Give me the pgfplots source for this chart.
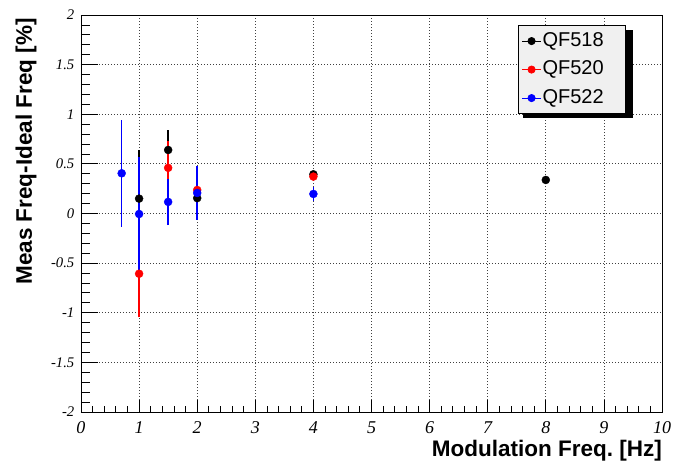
\documentclass[border=0pt]{standalone}
\usepackage{fontspec}
\setmainfont{Liberation Serif}
\newfontfamily\hv{Liberation Sans}
\usepackage{pgfplots}
\pgfplotsset{compat=1.18}
\definecolor{legfill}{HTML}{F0F0F0}
\frenchspacing

% measured points
\pgfplotstableread{
x y
1 0.150
1.5 0.640
2 0.155
4 0.395
8 0.338
}\qfA
\pgfplotstableread{
x y
1 -0.607
1.5 0.460
2 0.237
4 0.372
}\qfB
\pgfplotstableread{
x y
0.7 0.405
1 -0.005
1.5 0.117
2 0.207
4 0.197
}\qfC
% error bar ends (low, high) for each point
\pgfplotstableread{
x y
1 -0.34
1 0.64
nan nan
1.5 0.44
1.5 0.84
nan nan
2 0.055
2 0.255
nan nan
4 0.365
4 0.425
nan nan
8 0.308
8 0.368
}\errA
\pgfplotstableread{
x y
1 -1.047
1 -0.167
nan nan
1.5 0.19
1.5 0.73
nan nan
2 0.137
2 0.337
nan nan
4 0.342
4 0.402
}\errB
\pgfplotstableread{
x y
0.7 -0.135
0.7 0.945
nan nan
1 -0.575
1 0.565
nan nan
1.5 -0.118
1.5 0.352
nan nan
2 -0.063
2 0.477
nan nan
4 0.127
4 0.267
}\errC

\pgfplotsset{
  legimg/.style={legend image code/.code={
    \draw[draw=#1, line width=0.9pt] (0pt,0pt) -- (19pt,0pt);
    \fill[fill=#1] (9.5pt,0pt) circle (3.6pt);
  }},
  pts/.style={color=#1, only marks, mark=*, mark size=4pt, mark options={fill=#1, draw=#1}, legimg=#1},
  ebar/.style={draw=#1, line width=1.5pt, mark=none, forget plot, unbounded coords=jump},
}

\begin{document}
\begin{tikzpicture}
\path[use as bounding box] (-81pt,-52pt) rectangle (594pt,412pt);
\begin{axis}[
  scale only axis, width=581pt, height=397pt,
  at={(0,0)}, anchor=south west,
  xmin=0, xmax=10, ymin=-2, ymax=2,
  xtick={0,1,2,3,4,5,6,7,8,9,10},
  xticklabels={0,1,2,3,4,5,6,7,8,9,10},
  ytick={-2,-1.5,-1,-0.5,0,0.5,1,1.5,2},
  yticklabels={-2,-1.5,-1,-0.5,0,0.5,1,1.5,2},
  minor x tick num=4,
  tick align=inside,
  xtick pos=left, ytick pos=left,
  major tick length=12pt, minor tick length=6pt,
  ytick style={draw=none},
  xtick style={black, line width=0.8pt},
  axis line style={black, line width=0.9pt},
  grid=major,
  major grid style={black!75, line width=0.8pt, dash pattern=on 1pt off 2pt},
  xticklabel style={font=\fontsize{18}{18}\selectfont\itshape, inner sep=0pt, yshift=-9.7pt},
  yticklabel style={font=\fontsize{14.7}{14.7}\selectfont\itshape, inner sep=0pt, xshift=-6.5pt},
  xlabel={Modulation Freq. [Hz]},
  ylabel={Meas Freq-Ideal Freq [\%]},
  xlabel style={at={(axis description cs:1,0)}, anchor=north east, inner sep=0pt, yshift=-28pt,
    font=\hv\bfseries\fontsize{22.5}{22.5}\selectfont},
  ylabel style={at={(axis description cs:-0.076,0.992)}, anchor=south east, inner sep=0pt,
    font=\hv\bfseries\fontsize{22.5}{22.5}\selectfont},
  legend style={at={(axis description cs:0.752,0.975)}, anchor=north west,
    fill=legfill, draw=black, line width=0.8pt,
    inner xsep=3.3pt, inner ysep=5.5pt, row sep=8pt,
    nodes={inner sep=1pt, text height=14.5pt, text depth=4pt},
    /tikz/every even column/.append style={column sep=2.5pt},
    font=\hv\fontsize{20}{20}\selectfont},
  legend cell align=left,
]
\pgfplotsextra{
  \foreach \i in {0,...,40}{
    \pgfmathsetmacro\yy{-2+\i*0.1}
    \pgfmathsetmacro\len{ifthenelse(mod(\i,5)==0,17.4,8.7)}
    \draw[black, line width=0.8pt] (axis cs:0,\yy) -- ++(\len pt,0pt);
  }
  % legend shadow
  \fill[black] (axis description cs:0.7608,0.7395) rectangle (axis description cs:0.9503,0.9622);
}
\addplot[ebar=black] table[x=x, y=y] {\errA};
\addplot[pts=black] table[x=x, y=y] {\qfA};
\addlegendentry{\makebox[79pt][l]{QF518}}
\addplot[ebar=red] table[x=x, y=y] {\errB};
\addplot[pts=red] table[x=x, y=y] {\qfB};
\addlegendentry{\makebox[79pt][l]{QF520}}
\addplot[ebar=blue] table[x=x, y=y] {\errC};
\addplot[pts=blue] table[x=x, y=y] {\qfC};
\addlegendentry{\makebox[79pt][l]{QF522}}
\end{axis}
\end{tikzpicture}
\end{document}
